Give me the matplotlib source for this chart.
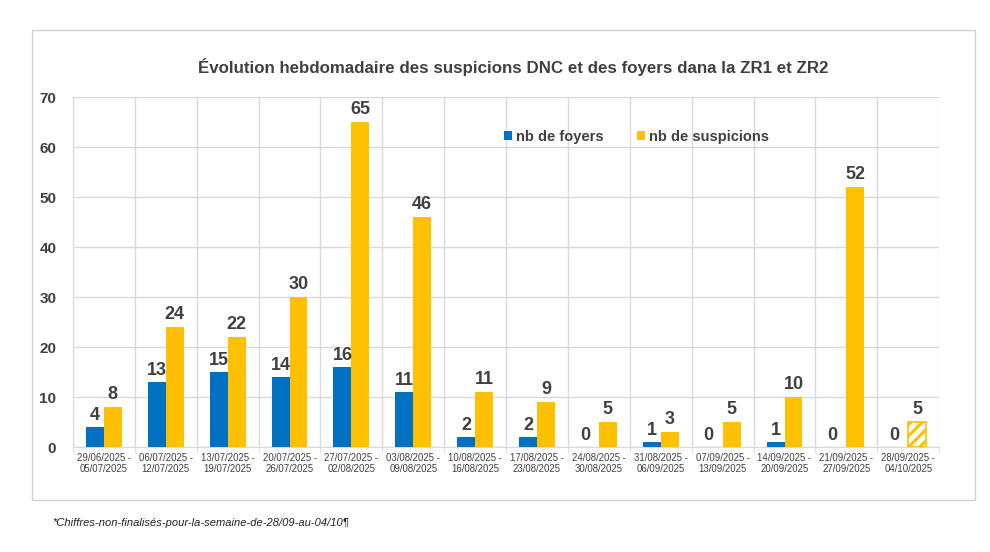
import matplotlib
matplotlib.use("Agg")
import matplotlib.pyplot as plt
from matplotlib.patches import Rectangle
import numpy as np

plt.rcParams['font.family'] = ['Liberation Sans', 'DejaVu Sans']
plt.rcParams['hatch.color'] = '#FFC000'
plt.rcParams['hatch.linewidth'] = 2.2

weeks_start = ["29/06/2025", "06/07/2025", "13/07/2025", "20/07/2025", "27/07/2025",
               "03/08/2025", "10/08/2025", "17/08/2025", "24/08/2025", "31/08/2025",
               "07/09/2025", "14/09/2025", "21/09/2025", "28/09/2025"]
weeks_end = ["05/07/2025", "12/07/2025", "19/07/2025", "26/07/2025", "02/08/2025",
             "09/08/2025", "16/08/2025", "23/08/2025", "30/08/2025", "06/09/2025",
             "13/09/2025", "20/09/2025", "27/09/2025", "04/10/2025"]
foyers = [4, 13, 15, 14, 16, 11, 2, 2, 0, 1, 0, 1, 0, 0]
suspicions = [8, 24, 22, 30, 65, 46, 11, 9, 5, 3, 5, 10, 52, 5]

BLUE = '#0070C0'
YELLOW = '#FFC000'
TXT = '#404040'
GRID = '#D9D9D9'

fig = plt.figure(figsize=(9.9, 5.52), dpi=100)
fig.patch.set_facecolor('white')
fig.patches.append(Rectangle((0.032, 0.094), 0.953, 0.852, transform=fig.transFigure,
                             fill=False, edgecolor='#D0D0D0', linewidth=1.0))

ax = fig.add_axes([0.0737, 0.190, 0.875, 0.634])
n = len(weeks_start)
x = np.arange(n)
w = 0.29

b1 = ax.bar(x - w / 2, foyers, w, color=BLUE, zorder=3)
b2 = ax.bar(x + w / 2, suspicions, w, color=YELLOW, zorder=3)
# last week not finalised: hatched
last = b2[-1]
last.set_facecolor('white')
last.set_edgecolor(YELLOW)
last.set_hatch('///')
last.set_linewidth(1.2)

for xi, v in zip(x, foyers):
    ax.text(xi - w / 2 - (0.08 if v == 0 else 0), v + 0.7, str(v), ha='center', va='bottom',
            fontsize=13, fontweight='bold', color=TXT, zorder=4)
for xi, v in zip(x, suspicions):
    ax.text(xi + w / 2, v + 0.9, str(v), ha='center', va='bottom',
            fontsize=13, fontweight='bold', color=TXT, zorder=4)

ax.set_xlim(-0.5, n - 0.5)
ax.set_ylim(0, 70)
ax.set_yticks(range(0, 71, 10))
ax.set_yticklabels([str(v) for v in range(0, 71, 10)], fontsize=11, fontweight='bold', color=TXT)
ax.set_xticks(x)
ax.set_xticklabels([f"{a} -\n{b}" for a, b in zip(weeks_start, weeks_end)],
                   fontsize=6.9, color=TXT, linespacing=1.15)
ax.tick_params(axis='x', length=0, pad=4)
ax.tick_params(axis='y', length=0, pad=12)
ax.set_xticks(np.arange(-0.5, n, 1), minor=True)
ax.tick_params(axis='x', which='minor', length=4, color=GRID)
ax.grid(axis='y', color=GRID, linewidth=1, zorder=0)
ax.grid(axis='x', which='minor', color=GRID, linewidth=1, zorder=0)
ax.grid(axis='x', which='major', visible=False)
for s in ['top', 'right']:
    ax.spines[s].set_visible(False)
ax.spines['left'].set_color(GRID)
ax.spines['bottom'].set_color(GRID)

leg = ax.legend([b1, b2[0]], ['nb de foyers', 'nb de suspicions'],
                loc='upper left', bbox_to_anchor=(0.483, 0.945), ncol=2, frameon=False,
                handlelength=0.5, handleheight=0.5, handletextpad=0.3, columnspacing=2.3,
                prop={'size': 10.5, 'weight': 'bold'})
for t in leg.get_texts():
    t.set_color(TXT)

fig.text(0.518, 0.878, "Évolution hebdomadaire des suspicions DNC et des foyers dana la ZR1 et ZR2",
         ha='center', va='center', fontsize=12.2, fontweight='bold', color=TXT)
fig.text(0.053, 0.053, "*Chiffres-non-finalisés-pour-la-semaine-de-28/09-au-04/10¶",
         ha='left', va='center', fontsize=8, style='italic', color='#222222')

fig.savefig('out.png', dpi=100)
